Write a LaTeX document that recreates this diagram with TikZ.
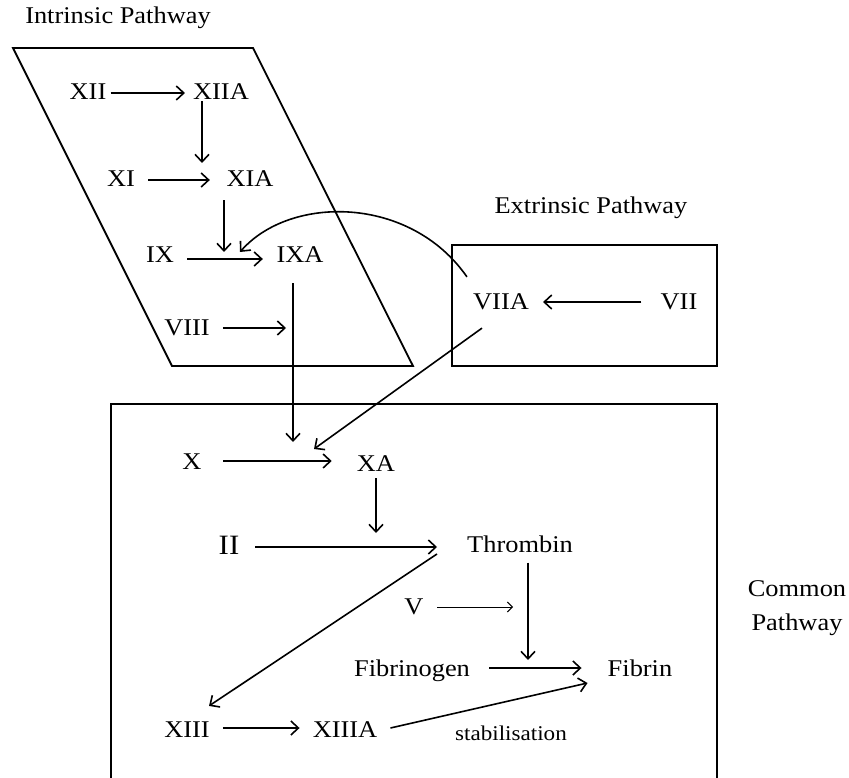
\documentclass[tikz,border=0pt]{standalone}
\usepackage{fontspec}
\setmainfont{Liberation Serif}[FakeStretch=1.1]
\usetikzlibrary{arrows.meta,calc}
\begin{document}
\begin{tikzpicture}[x=1pt,y=-1pt,
  lbl/.style={inner sep=0pt, text depth=0pt, font=\fontsize{24}{28}\selectfont},
  biglbl/.style={lbl, font=\fontsize{28}{32}\selectfont},
  smalllbl/.style={lbl, font=\fontsize{21}{25}\selectfont},
  arr/.style={line width=1.6pt, -{Straight Barb[length=7.5pt,width=14pt,line width=1.6pt]}},
  thinarr/.style={line width=1pt, -{Straight Barb[length=5pt,width=10pt,line width=1pt]}},
  frame/.style={line width=1.8pt}]
\useasboundingbox (0,0) rectangle (849,778);

% frames
\draw[frame] (13,48) -- (253,48) -- (413,366) -- (172,366) -- cycle;
\draw[frame] (452,245) rectangle (717,366);
\draw[frame] (111,404) rectangle (717,800);

% labels
\node[lbl] (intr) at (118,15) {Intrinsic Pathway};
\node[lbl] (extr) at (591,205) {Extrinsic Pathway};
\node[lbl] (comm) at (797,589) {Common};
\node[lbl] (path) at (797,622) {Pathway};

\node[lbl] (XII) at (88,92) {XII};
\node[lbl] (XIIA) at (221,92) {XIIA};
\node[lbl] (XI) at (121,179) {XI};
\node[lbl] (XIA) at (250,179) {XIA};
\node[lbl] (IX) at (160,255) {IX};
\node[lbl] (IXA) at (300,255) {IXA};
\node[lbl] (VIII) at (187,328) {VIII};
\node[lbl] (VIIA) at (501,302) {VIIA};
\node[lbl] (VII) at (679,302) {VII};
\node[lbl] (X) at (192,462) {X};
\node[lbl] (XA) at (376,464) {XA};
\node[biglbl] (II) at (229,545) {II};
\node[lbl] (Thr) at (520,544) {Thrombin};
\node[lbl] (V) at (414,607) {V};
\node[lbl] (Fbg) at (412,668) {Fibrinogen};
\node[lbl] (Fbn) at (640,668) {Fibrin};
\node[lbl] (XIII) at (187,730) {XIII};
\node[lbl] (XIIIA) at (345,730) {XIIIA};
\node[smalllbl] (stab) at (511,733) {stabilisation};

% free ends
\coordinate (c12) at (202,163);
\coordinate (c24) at (224,252);
\coordinate (c6) at (240,252);
\coordinate (c7) at (286,328);
\coordinate (c8) at (293,442);
\coordinate (c10) at (314,449);
\coordinate (cXA) at (376,533);
\coordinate (c15) at (528,660);
\coordinate (c16) at (513,607);

% intrinsic
\draw[arr] ($(XII.east)+(4,1)$) -- ($(XIIA.west)+(-8,1)$);
\draw[arr] ($(XIIA.south -| c12)+(0,1)$) -- (c12);
\draw[arr] ($(XI.east)+(13,1)$) -- ($(XIA.west)+(-16.5,1)$);
\draw[arr] ($(XIA.south -| c24)+(0,13)$) -- (c24);
\draw[arr] ($(IX.east)+(13,4)$) -- ($(IXA.west)+(-13.5,4)$);
\draw[arr] ($(VIIA.north west)+(-6,-17)$) .. controls (410,195) and (290,195) .. (c6);
\draw[arr] ($(VIII.east)+(13,0)$) -- (c7);
\draw[arr] ($(IXA.south -| c8)+(0,20)$) -- (c8);

% extrinsic
\draw[arr] ($(VII.west)+(-19,0)$) -- ($(VIIA.east)+(14,0)$);
\draw[arr] ($(VIIA.south)+(-19,18)$) -- (c10);

% common
\draw[arr] ($(X.east)+(21.5,-1)$) -- ($(XA.west)+(-25,-3)$);
\draw[arr] ($(XA.south)+(0,6)$) -- (cXA);
\draw[arr] ($(II.east)+(16,2)$) -- ($(Thr.west)+(-30,3)$);
\draw[arr] ($(Thr.west)+(-30,10)$) -- ($(XIII.north)+(22,-16)$);
\draw[arr] ($(Thr.south)+(8,10)$) -- (c15);
\draw[thinarr] ($(V.east)+(13.5,0)$) -- (c16);
\draw[arr] ($(Fbg.east)+(19,0)$) -- ($(Fbn.west)+(-26,0)$);
\draw[arr] ($(XIII.east)+(13,-2)$) -- ($(XIIIA.west)+(-13,-2)$);
\draw[arr] ($(XIIIA.east)+(13,-2)$) -- ($(Fbn.west)+(-20,15)$);
\end{tikzpicture}
\end{document}
